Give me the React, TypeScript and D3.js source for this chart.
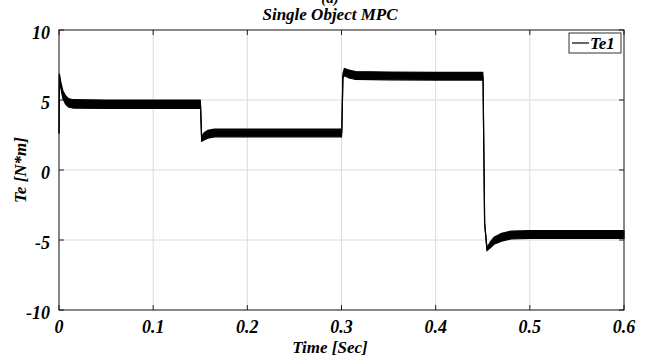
import React from "react";
import * as d3 from "d3";

// Time samples [s], band centre [N*m] and half-width of the ripple band [N*m]
const time = [0, 0.0004, 0.0015, 0.004, 0.007, 0.01, 0.015, 0.05, 0.1, 0.15, 0.1503, 0.1515, 0.154, 0.158, 0.165, 0.2, 0.25, 0.3, 0.3003, 0.3015, 0.303, 0.308, 0.315, 0.35, 0.4, 0.45, 0.4503, 0.452, 0.4545, 0.458, 0.462, 0.47, 0.48, 0.5, 0.55, 0.6];
const centre = [2.6, 6.8, 6.2, 5.4, 5.0, 4.8, 4.72, 4.7, 4.7, 4.7, 4.6, 2.2, 2.4, 2.55, 2.65, 2.65, 2.65, 2.65, 2.7, 6.7, 7.0, 6.85, 6.75, 6.72, 6.7, 6.7, 6.6, -3.8, -5.65, -5.35, -5.05, -4.8, -4.65, -4.6, -4.6, -4.6];
const halfWidth = [0, 0.08, 0.2, 0.28, 0.3, 0.3, 0.3, 0.3, 0.3, 0.3, 0.0, 0.15, 0.25, 0.28, 0.28, 0.28, 0.28, 0.28, 0.0, 0.15, 0.25, 0.28, 0.28, 0.28, 0.28, 0.28, 0.0, 0.0, 0.1, 0.2, 0.25, 0.28, 0.28, 0.28, 0.28, 0.28];

const xTicks = [0, 0.1, 0.2, 0.3, 0.4, 0.5, 0.6];
const yTicks = [-10, -5, 0, 5, 10];
const xTickLabels = ["0", "0.1", "0.2", "0.3", "0.4", "0.5", "0.6"];
const yTickLabels = ["-10", "-5", "0", "5", "10"];
const seriesName = "Te1";

const W = 651, H = 356;
const L = 59, R = 624, T = 30, B = 310;
const FONT = "'Liberation Serif', 'Times New Roman', serif";

export default function App() {
  const x = d3.scaleLinear().domain([0, 0.6]).range([L, R]);
  const y = d3.scaleLinear().domain([-10, 10]).range([B, T]);
  const pts = time.map((t, i) => ({ t, c: centre[i], h: halfWidth[i] }));
  const area = d3
    .area<{ t: number; c: number; h: number }>()
    .x((d) => x(d.t))
    .y0((d) => y(d.c - d.h))
    .y1((d) => y(d.c + d.h));
  const line = d3
    .line<{ t: number; c: number; h: number }>()
    .x((d) => x(d.t))
    .y((d) => y(d.c));
  const txt = { fontFamily: FONT, fontWeight: 700, fontStyle: "italic" as const };
  return (
    <svg width={W} height={H} style={{ position: "absolute", left: 0, top: 0, background: "#fff" }}>
      <text x={330} y={3} textAnchor="middle" fontSize={15} {...txt}>(a)</text>
      <text x={330} y={20} textAnchor="middle" fontSize={17} {...txt}>Single Object MPC</text>
      {xTicks.slice(1, -1).map((t) => (
        <line key={"gx" + t} x1={x(t)} x2={x(t)} y1={T} y2={B} stroke="#dcdcdc" strokeWidth={1} />
      ))}
      {yTicks.slice(1, -1).map((v) => (
        <line key={"gy" + v} x1={L} x2={R} y1={y(v)} y2={y(v)} stroke="#dcdcdc" strokeWidth={1} />
      ))}
      {xTicks.map((t) => (
        <g key={"tx" + t}>
          <line x1={x(t)} x2={x(t)} y1={B} y2={B - 5} stroke="#222" />
          <line x1={x(t)} x2={x(t)} y1={T} y2={T + 5} stroke="#222" />
        </g>
      ))}
      {yTicks.map((v) => (
        <g key={"ty" + v}>
          <line x1={L} x2={L + 5} y1={y(v)} y2={y(v)} stroke="#222" />
          <line x1={R} x2={R - 5} y1={y(v)} y2={y(v)} stroke="#222" />
        </g>
      ))}
      <path d={area(pts) || ""} fill="#000" stroke="#000" strokeWidth={1.2} />
      <path d={line(pts) || ""} fill="none" stroke="#000" strokeWidth={1.2} />
      <rect x={L} y={T} width={R - L} height={B - T} fill="none" stroke="#111" strokeWidth={1} />
      {xTicks.map((t, i) => (
        <text key={"lx" + t} x={x(t)} y={333} textAnchor="middle" fontSize={18} {...txt}>{xTickLabels[i]}</text>
      ))}
      {yTicks.map((v, i) => (
        <text key={"ly" + v} x={L - 9} y={y(v) + 9} textAnchor="end" fontSize={18} {...txt}>{yTickLabels[i]}</text>
      ))}
      <text x={330} y={353} textAnchor="middle" fontSize={17} {...txt}>Time [Sec]</text>
      <text transform={`translate(26,${(T + B) / 2}) rotate(-90)`} textAnchor="middle" fontSize={17} {...txt}>Te [N*m]</text>
      <rect x={569} y={33} width={52} height={20} fill="#fff" stroke="#333" strokeWidth={1} />
      <line x1={572} x2={589} y1={43} y2={43} stroke="#000" strokeWidth={1.2} />
      <text x={590} y={49} fontSize={17} {...txt}>{seriesName}</text>
    </svg>
  );
}
